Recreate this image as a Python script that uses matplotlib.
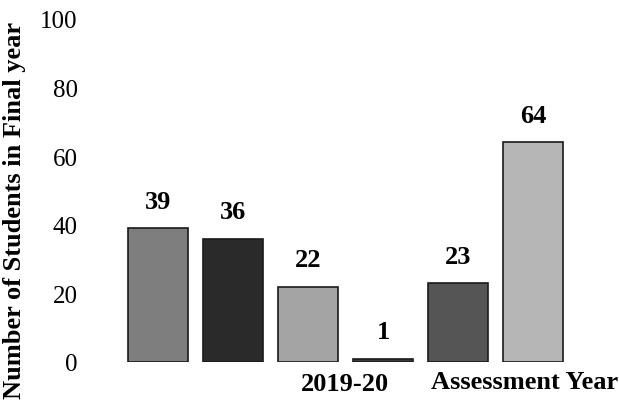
import numpy as np
import matplotlib.pyplot as plt

# bar values
values = [39, 36, 22, 1, 23, 64]
bar_colors = ['#7e7e7e', '#2a2a2a', '#a4a4a4', '#3a3a3a', '#555555', '#b6b6b6']
yticks = [0, 20, 40, 60, 80, 100]

plt.rcParams['font.family'] = ['Liberation Serif', 'DejaVu Serif']

fig = plt.figure(figsize=(6.19, 4.06), dpi=100)
ax = fig.add_axes([100 / 619, 43 / 406, 500 / 619, 343 / 406])

x = np.arange(len(values))
bars = ax.bar(x, values, width=0.8, color=bar_colors, edgecolor='#1a1a1a', linewidth=1.2)

for xi, v in zip(x, values):
    ax.text(xi, v + 4.5, str(v), ha='center', va='bottom', fontsize=19, fontweight='bold')

ax.set_xlim(-0.773, 5.893)
ax.set_ylim(0, 100)
ax.set_yticks(yticks)
ax.set_yticklabels([str(t) for t in yticks], fontsize=18)
ax.set_xticks([])
ax.tick_params(axis='y', length=0, pad=16)
for s in ax.spines.values():
    s.set_visible(False)

fig.text(15 / 619, 1 - 210 / 406, 'Number of Students in Final year', rotation=90,
         ha='center', va='center', fontsize=19, fontweight='bold')
fig.text(345 / 619, 1 - 385 / 406, '2019-20', ha='center', va='center',
         fontsize=19, fontweight='bold')
fig.text(525 / 619, 1 - 383 / 406, 'Assessment Year', ha='center', va='center',
         fontsize=19, fontweight='bold')

fig.savefig('out.png', dpi=100)
